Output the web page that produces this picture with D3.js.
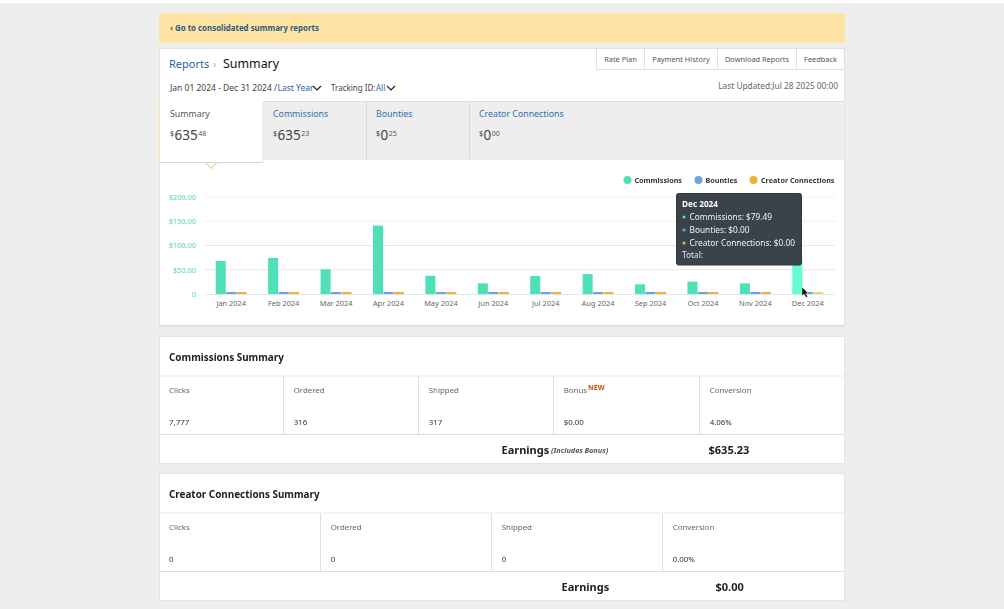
<!DOCTYPE html>
<html>
<head>
<meta charset="utf-8">
<script src="https://cdn.jsdelivr.net/npm/d3@7/dist/d3.min.js"></script>
<style>
  html, body { margin: 0; padding: 0; background: #eeeeee; overflow: hidden; }
  svg { display: block; filter: blur(0.3px); }
  text { font-family: "Noto Sans", sans-serif; }
</style>
</head>
<body>
<svg id="page" width="1004" height="609"></svg>
<script>
const months = ["Jan 2024","Feb 2024","Mar 2024","Apr 2024","May 2024","Jun 2024","Jul 2024","Aug 2024","Sep 2024","Oct 2024","Nov 2024","Dec 2024"];
const seriesNames = ["Commissions","Bounties","Creator Connections"];
const commissions = [68,74.5,51,141,37.5,22,37,41,20,25.5,22,79.49];
const bounties = [0,0,0,0,0,0,0,0,0,0,0,0];
const creatorConnections = [0,0,0,0,0,0,0,0,0,0,0,0];
const yTicks = [0,50,100,150,200];
const seriesColors = ["#4fe0b8","#6fa3e0","#f0b03c"];

const tabNames = ["Summary","Commissions","Bounties","Creator Connections"];
const tabDollars = ["635","635","0","0"];
const tabCents = ["48","23","25","00"];

const navLinks = ["Rate Plan","Payment History","Download Reports","Feedback"];

const commissionHeads = ["Clicks","Ordered","Shipped","Bonus","Conversion"];
const commissionVals = ["7,777","316","317","$0.00","4.06%"];
const creatorHeads = ["Clicks","Ordered","Shipped","Conversion"];
const creatorVals = ["0","0","0","0.00%"];

const tipLines = ["Commissions: $79.49","Bounties: $0.00","Creator Connections: $0.00"];

const svg = d3.select("#page");

function label(x, y, str, size, color, weight, anchor) {
  return svg.append("text")
    .attr("x", x).attr("y", y)
    .attr("font-size", size)
    .attr("fill", color)
    .attr("font-weight", weight || 400)
    .attr("text-anchor", anchor || "start")
    .text(str);
}

function box(x, y, w, h, fill, stroke) {
  return svg.append("rect")
    .attr("x", x).attr("y", y).attr("width", w).attr("height", h)
    .attr("fill", fill).attr("stroke", stroke || "none");
}

function line(x1, y1, x2, y2, color) {
  svg.append("line")
    .attr("x1", x1).attr("y1", y1).attr("x2", x2).attr("y2", y2)
    .attr("stroke", color).attr("stroke-width", 1);
}

// white strip on top of the page
box(0, 0, 1004, 3, "#fff");

// top banner
box(159, 13, 686, 30, "#fde4a4");
label(170, 31, "‹ Go to consolidated summary reports", 7.9, "#2f5a80", 700);

// main card
box(159.5, 48.5, 685, 277, "#fff", "#e2e2e2");
box(160, 325, 685, 1.5, "#dcdcdc");

label(169, 68, "Reports", 11, "#2f6298");
label(213, 68, "›", 10, "#aaa");
label(223, 68, "Summary", 12.4, "#111");

label(170, 91, "Jan 01 2024 - Dec 31 2024 /", 8.5, "#444");
label(277.5, 91, "Last Year", 8.5, "#2f6298");
label(331, 91, "Tracking ID:", 8, "#444");
label(376, 91, "All", 8, "#2f6298");
[[317, 88], [391, 88]].forEach(c => {
  svg.append("path")
    .attr("d", d3.line()([[c[0]-4, c[1]-2], [c[0], c[1]+2], [c[0]+4, c[1]-2]]))
    .attr("fill", "none").attr("stroke", "#222").attr("stroke-width", 1.2);
});
label(838, 89, "Last Updated:Jul 28 2025 00:00", 8.3, "#666", 400, "end");

// nav buttons
const navEdges = [596.5, 644.5, 717.5, 796.5, 844.5];
navLinks.forEach((n, i) => {
  box(navEdges[i], 48.5, navEdges[i+1]-navEdges[i], 21, "#fff", "#e0e0e0");
  label((navEdges[i]+navEdges[i+1])/2, 62, n, 7.4, "#555", 400, "middle");
});

// tab strip
box(160, 101, 684, 59, "#eeeeee");
line(160, 101.5, 844, 101.5, "#dedede");
const tabEdges = [160, 263, 366, 469];
[366.5, 469.5].forEach(x => line(x, 102, x, 159, "#d8d8d8"));
svg.append("path")
  .attr("d", d3.line()([[205, 162], [211, 168.5], [217.5, 162]]))
  .attr("fill", "#fff").attr("stroke", "#f0b860").attr("stroke-width", 1);
box(159.5, 101, 103.5, 61, "#fff");
line(159.5, 162.5, 263, 162.5, "#d8d8d8");
line(263, 102, 263, 162, "#e4e4e4");
line(159.5, 102, 159.5, 162, "#fbe0a8");
tabNames.forEach((n, i) => {
  const x = tabEdges[i] + 10;
  label(x, 117, n, 8.8, i === 0 ? "#555" : "#2f6fb0");
  label(x, 136, "$", 7, "#333");
  const big = label(x + 4.5, 140, tabDollars[i], 13.5, "#444");
  const w = big.node().getComputedTextLength();
  label(x + 4.5 + w + 0.5, 136, tabCents[i], 7, "#555");
});

// chart
const baseY = 294;
const x0 = d3.scaleBand().domain(months).range([205, 834]);
const x1 = d3.scaleBand().domain(seriesNames).range([-15.5, 15.5]).paddingInner(0.04);
const y = d3.scaleLinear().domain([0, 200]).range([baseY, 197]);
const minBar = 2;

const yAxis = d3.axisLeft(y)
  .tickValues(yTicks)
  .tickSize(0)
  .tickPadding(9)
  .tickFormat(d => d === 0 ? "0" : "$" + d3.format(".2f")(d));
const gy = svg.append("g").attr("transform", "translate(205,0)").call(yAxis);
gy.select(".domain").remove();
gy.selectAll("text").attr("font-size", 7.4).attr("fill", "#52d4b0");

svg.append("g").selectAll("line").data(yTicks.slice(1)).enter().append("line")
  .attr("x1", 205).attr("x2", 835)
  .attr("y1", d => y(d)).attr("y2", d => y(d))
  .attr("stroke", d => d > 100 ? "#f3f3f3" : "#e9e9e9")
  .attr("stroke-width", d => d > 100 ? 1.6 : 1);

const xAxis = d3.axisBottom(x0).tickSize(0).tickPadding(7);
const gx = svg.append("g").attr("transform", `translate(0,${baseY})`).call(xAxis);
gx.select(".domain").attr("stroke", "#d6e6ee").attr("stroke-width", 1);
gx.selectAll("text").attr("font-size", 7.4).attr("fill", "#666");

const allSeries = [commissions, bounties, creatorConnections];
const hovered = months.length - 1;
seriesNames.forEach((name, s) => {
  svg.append("g").selectAll("rect").data(allSeries[s]).enter().append("rect")
    .attr("x", (d, i) => x0(months[i]) + x0.bandwidth() / 2 + x1(name))
    .attr("width", x1.bandwidth())
    .attr("y", d => Math.min(y(d), baseY - minBar))
    .attr("height", d => Math.max(baseY - y(d), minBar))
    .attr("fill", (d, i) => (s === 0 && i === hovered) ? "#66fbd3" : (i === hovered && s === 2 ? "#f8cf72" : seriesColors[s]));
});

// legend
const legendDots = [627.5, 698.5, 753.5];
const legendText = [634.5, 705.5, 761];
seriesNames.forEach((n, i) => {
  svg.append("circle").attr("cx", legendDots[i]).attr("cy", 180).attr("r", 4).attr("fill", seriesColors[i]);
  label(legendText[i], 183, n, 7.2, "#333", 700);
});

// tooltip
box(676.5, 193.5, 125, 71.5, "#3a424a").attr("rx", 2).attr("stroke", "#2f363c");
label(682, 207, months[hovered], 8.2, "#fff", 700);
tipLines.forEach((t, i) => {
  const ty = 220 + i * 13;
  svg.append("circle").attr("cx", 684).attr("cy", ty - 3).attr("r", 1.6).attr("fill", seriesColors[i]);
  label(689.5, ty, t, 8.3, "#f2f2f2");
});
label(682, 258, "Total:", 8.3, "#e4e4e4");

// mouse pointer
svg.append("path")
  .attr("d", "M802,287 L802,296 L804,294 L806,297.5 L807.5,296.5 L805.8,293.3 L808,293 Z")
  .attr("fill", "#111").attr("stroke", "#fff").attr("stroke-width", 0.4);

// summary tables
function summary(top, height, title, heads, vals, edges, rowY, earnX, amtX, amount) {
  box(159.5, top, 685, height, "#fff", "#e4e4e4");
  label(169, top + 24, title, 9.9, "#222", 700);
  line(160, top + 39.5, 844, top + 39.5, "#e8e8e8");
  line(160, rowY, 844, rowY, "#dedede");
  edges.slice(1, -1).forEach(x => line(x, top + 40, x, rowY, "#e0e0e0"));
  heads.forEach((h, i) => {
    const tx = i === 0 ? 169 : edges[i] + 10.2;
    label(tx, top + 56, h, 7.9, "#666");
    label(tx, top + 88, vals[i], 7.9, "#333");
  });
  label(earnX, rowY + 19, "Earnings", 11, "#222", 700);
  label(amtX, rowY + 19, amount, 11, "#222", 700);
}

summary(336.5, 127, "Commissions Summary", commissionHeads, commissionVals,
  [160, 283.5, 418.5, 553.5, 699.5, 844], 434.5, 501.5, 708.5, "$635.23");
label(551, 453, "(Includes Bonus)", 7.3, "#555", 700).attr("font-style", "italic");
label(588, 390, "NEW", 7.2, "#c8530f", 700);

summary(473.5, 127, "Creator Connections Summary", creatorHeads, creatorVals,
  [160, 320.5, 491.5, 662.5, 844], 571.5, 561.5, 715.5, "$0.00");
</script>
</body>
</html>
